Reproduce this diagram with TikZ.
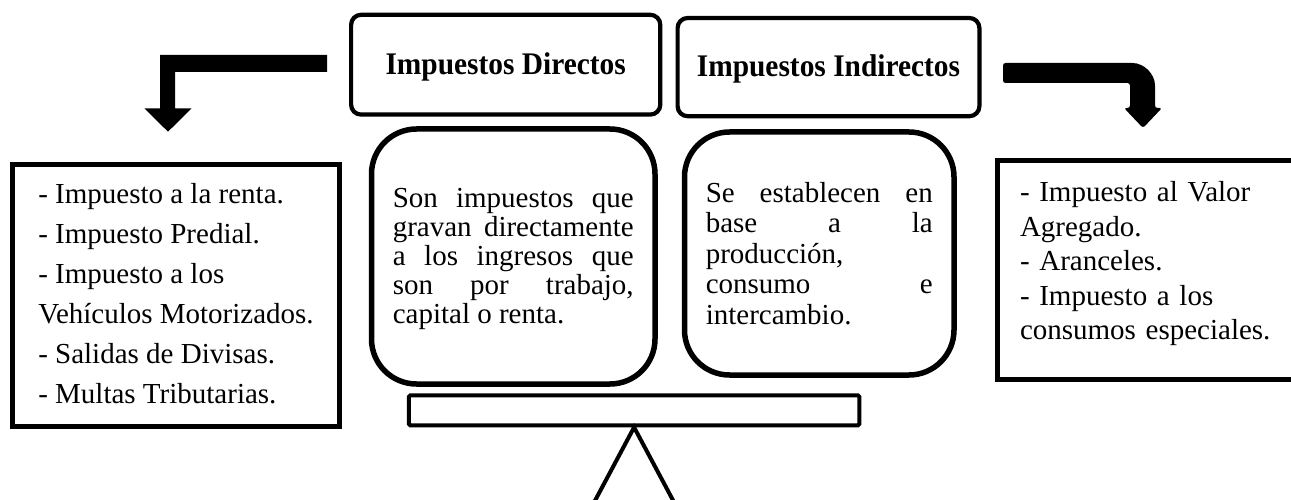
\documentclass[tikz,border=0pt]{standalone}
\usepackage{fontspec}
\setmainfont{Liberation Serif}
\begin{document}
\begin{tikzpicture}[x=1pt,y=-1pt,
  titlebox/.style={draw, line width=4.2pt, rounded corners=10pt, inner sep=0pt,
    font=\rmfamily\fontsize{29.4pt}{34pt}\selectfont\bfseries},
  roundbox/.style={draw, line width=5.5pt, rounded corners=45pt, inner sep=0pt, align=left},
  listbox/.style={draw, line width=5pt, inner sep=0pt, align=left,
    font=\rmfamily\fontsize{29pt}{40pt}\selectfont},
  arrowfill/.style={fill=black, draw=none}
]
\useasboundingbox (0,0) rectangle (1291,500);
\fill[white] (0,0) rectangle (1291,500);
\clip (0,0) rectangle (1291,500);

% title boxes
\node[titlebox, minimum width=309.2pt, minimum height=99.8pt, text height=26pt, text depth=5.4pt]
  (dir) at (505.7,64.7) {\scalebox{1}[1.07]{Impuestos Directos}};
\node[titlebox, minimum width=301.8pt, minimum height=98.2pt, text height=25pt, text depth=5.8pt]
  (ind) at (828.5,67.1) {\scalebox{1}[1.07]{Impuestos Indirectos}};

% description boxes
\node[roundbox, minimum width=283.5pt, minimum height=255pt,
  font=\rmfamily\fontsize{29pt}{29pt}\selectfont]
  (dirdesc) at (513.25,256.5) {%
  \rule{0pt}{26.3pt}\makebox[241pt][s]{Son impuestos que}\strut\\
  \makebox[241pt][s]{gravan directamente}\strut\\
  \makebox[241pt][s]{a los ingresos que}\strut\\
  \makebox[241pt][s]{son por trabajo,}\strut\\
  \makebox[241pt][l]{capital o renta.}\strut};
\node[roundbox, minimum width=269.5pt, minimum height=243pt,
  font=\rmfamily\fontsize{29pt}{30.5pt}\selectfont]
  (inddesc) at (819.25,253.5) {%
  \rule{0pt}{28.15pt}\makebox[227pt][s]{Se establecen en}\strut\\
  \makebox[227pt][s]{base a la}\strut\\
  \makebox[227pt][l]{producción,}\strut\\
  \makebox[227pt][s]{consumo e}\strut\\
  \makebox[227pt][l]{intercambio.}\strut};

% list boxes
\node[listbox, minimum width=327pt, minimum height=261.5pt]
  (dirlist) at (176,295.75) {%
  \strut- Impuesto a la renta.\\
  \strut- Impuesto Predial.\\
  \strut- Impuesto a los\\
  \strut Vehículos Motorizados.\\
  \strut- Salidas de Divisas.\\
  \strut- Multas Tributarias.};
\node[listbox, minimum width=305pt, minimum height=218pt, text width=260pt,
  inner xsep=22.5pt, font=\rmfamily\fontsize{29pt}{34.5pt}\selectfont]
  (indlist) at (1150,270) {%
  \strut- Impuesto al Valor\\
  \strut Agregado.\\
  \strut- Aranceles.\\
  \strut- Impuesto a los\\
  \strut consumos especiales.\rule[-22.35pt]{0pt}{0pt}};

% balance
\node[draw, line width=4pt, rounded corners=1.5pt, minimum width=450.6pt, minimum height=30pt, inner sep=0pt]
  (beam) at (634.1,410.3) {};
\coordinate (apex) at (beam.south);
\draw[line width=4pt, line join=miter] (apex) -- ++(40.5,76) -- ++(-81,0) -- cycle;

% left arrow
\coordinate (la) at (327,55);
\fill[arrowfill] (la) -- (160,55) -- (160,108.3) -- (144.3,108.3) -- (168,131.7)
  -- (191.7,108.3) -- (175,108.3) -- (175,72) -- (327,72) -- cycle;

% right arrow
\coordinate (ra) at (1003,63);
\fill[arrowfill, rounded corners=2.5pt] (ra) -- (1130,63) .. controls (1144,63) and (1155,74) .. (1155,88)
  -- (1155,108) -- (1162,108) -- (1143,128) -- (1124,108) -- (1130,108) -- (1130,83)
  -- (1003,83) -- cycle;
\end{tikzpicture}
\end{document}
